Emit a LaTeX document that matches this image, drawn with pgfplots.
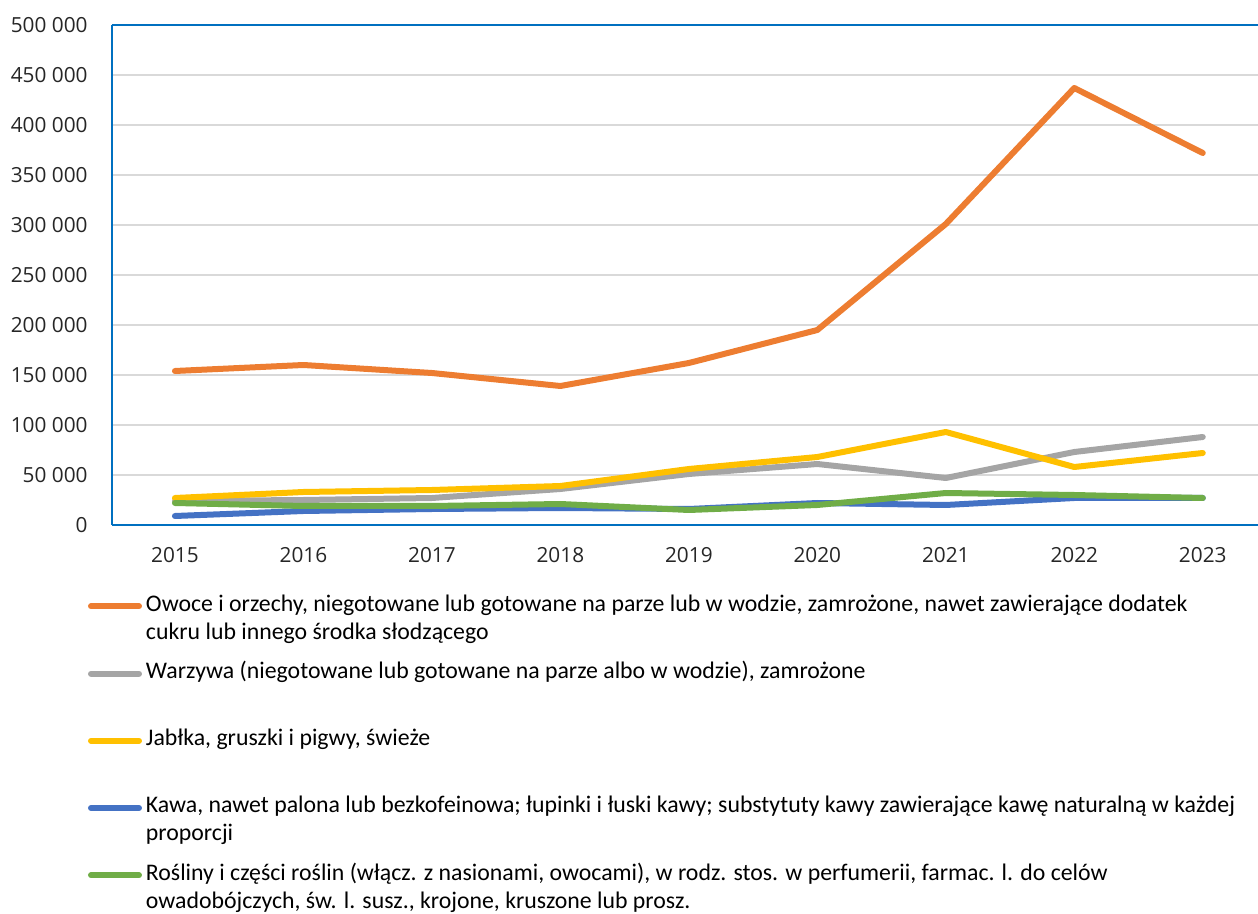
\documentclass[border=0pt]{standalone}
\usepackage{pgfplots}
\pgfplotsset{compat=1.18}
\usepackage{fontspec}
\setmainfont{Carlito}
\newfontfamily\tickfont{Open Sans}
\definecolor{cOrange}{HTML}{ED7D31}
\definecolor{cGray}{HTML}{A5A5A5}
\definecolor{cYellow}{HTML}{FFC000}
\definecolor{cBlue}{HTML}{4472C4}
\definecolor{cGreen}{HTML}{70AD47}
\definecolor{cFrame}{HTML}{0070C0}
\definecolor{cGrid}{HTML}{D9D9D9}
\newcommand{\legtxt}[2]{\raisebox{18.2pt}{\parbox[t]{590pt}{\fontsize{11.9}{14}\selectfont\strut #1\\\strut #2}}}
\begin{document}
\begin{tikzpicture}
\path[use as bounding box] (-56pt,-194.5pt) rectangle (573pt,262.5pt);
\begin{axis}[
  scale only axis,
  width=573pt, height=250pt,
  xmin=2014.51, xmax=2023.43,
  ymin=0, ymax=500000,
  scaled y ticks=false,
  axis x line*=box, axis y line*=left,
  axis line style={draw=cFrame, line width=1pt},
  xtick={2015,2016,2017,2018,2019,2020,2021,2022,2023},
  xticklabels={2015,2016,2017,2018,2019,2020,2021,2022,2023},
  ytick={0,50000,100000,150000,200000,250000,300000,350000,400000,450000,500000},
  yticklabels={0,50 000,100 000,150 000,200 000,250 000,300 000,350 000,400 000,450 000,500 000},
  major tick length=0pt,
  tick label style={font=\tickfont\fontsize{10.4}{12}\selectfont, text=black!85},
  yticklabel style={inner sep=0pt, anchor=east, xshift=-12pt},
  xticklabel style={inner sep=0pt, anchor=north, yshift=-11pt},
  ymajorgrids, grid style={draw=cGrid, line width=0.75pt},
  every axis plot/.append style={line width=3pt, line cap=round, line join=round},
  legend image code/.code={\path[draw=none,fill=none] (0pt,-14pt) rectangle (27pt,14pt); \draw[#1] (1.5pt,7.35pt) -- (25.5pt,7.35pt);},
  legend style={draw=none, fill=none, at={(0,0)}, anchor=north west,
    xshift=-12pt, yshift=-33.3pt, inner sep=0pt, outer sep=0pt,
    cells={anchor=west},
    nodes={inner sep=0pt, outer sep=0pt}, row sep=4.1pt, column sep=2pt},
]
\addplot[cOrange] coordinates {(2015,154000) (2016,160000) (2017,152000) (2018,139000) (2019,162000) (2020,195000) (2021,301000) (2022,437000) (2023,372000)};
\addlegendentry{\legtxt{Owoce i orzechy, niegotowane lub gotowane na parze lub w wodzie, zamrożone, nawet zawierające dodatek}{cukru lub innego środka słodzącego}}
\addplot[cGray] coordinates {(2015,24000) (2016,25000) (2017,27000) (2018,36000) (2019,51000) (2020,61000) (2021,47000) (2022,73000) (2023,88000)};
\addlegendentry{\legtxt{Warzywa (niegotowane lub gotowane na parze albo w wodzie), zamrożone}{}}
\addplot[cYellow] coordinates {(2015,27000) (2016,33000) (2017,35000) (2018,39000) (2019,56000) (2020,68000) (2021,93000) (2022,58000) (2023,72000)};
\addlegendentry{\legtxt{Jabłka, gruszki i pigwy, świeże}{}}
\addplot[cBlue] coordinates {(2015,9000) (2016,14000) (2017,16000) (2018,17000) (2019,16000) (2020,22000) (2021,20000) (2022,27000) (2023,27000)};
\addlegendentry{\legtxt{Kawa, nawet palona lub bezkofeinowa; łupinki i łuski kawy; substytuty kawy zawierające kawę naturalną w każdej}{proporcji}}
\addplot[cGreen] coordinates {(2015,22000) (2016,19000) (2017,19000) (2018,21000) (2019,15000) (2020,20000) (2021,32000) (2022,30000) (2023,27000)};
\addlegendentry{\legtxt{Rośliny i części roślin (włącz. z nasionami, owocami), w rodz. stos. w perfumerii, farmac. l. do celów}{owadobójczych, św. l. susz., krojone, kruszone lub prosz.}}
\end{axis}
\end{tikzpicture}
\end{document}
